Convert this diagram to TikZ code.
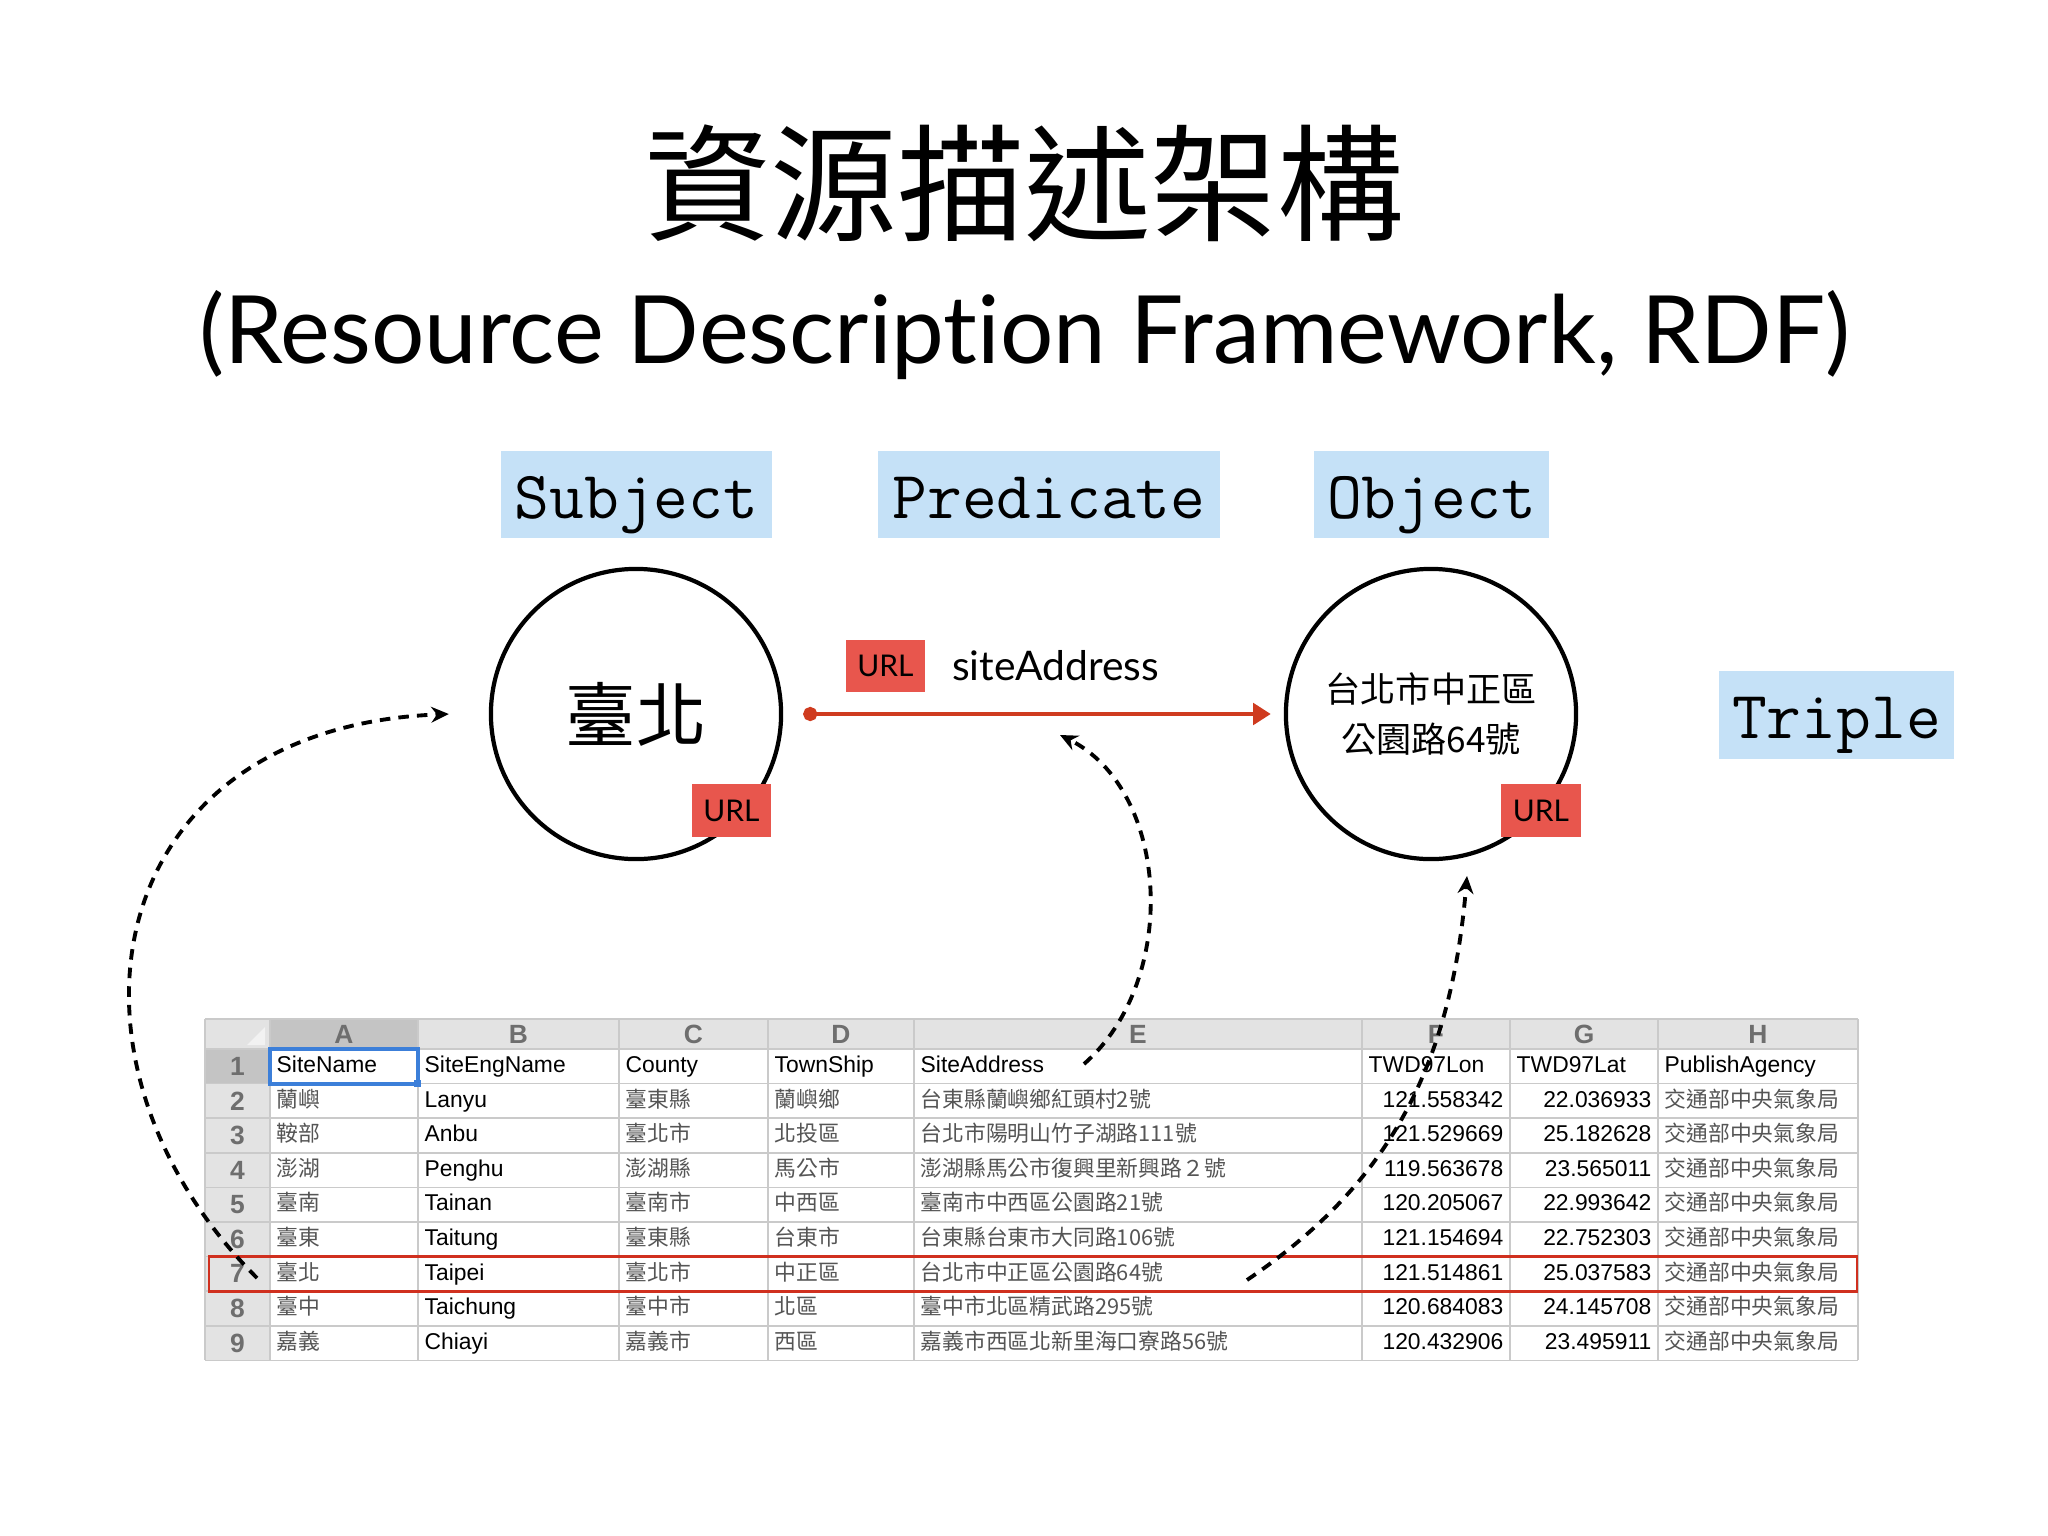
\documentclass[tikz,border=0pt]{standalone}
\usepackage{fontspec}
\setmainfont{Liberation Sans}
\newfontfamily\cjk{Noto Sans CJK TC}
\newfontfamily\gill{Lato}[Ligatures=NoCommon]
\usepackage{tikz}
\usetikzlibrary{arrows.meta,calc,positioning}
\definecolor{tagblue}{HTML}{C5E1F7}
\definecolor{urlred}{HTML}{E8564D}
\definecolor{relred}{HTML}{CF3B1F}
\definecolor{sheetline}{HTML}{CACACA}
\definecolor{headfill}{HTML}{E3E3E3}
\definecolor{headsel}{HTML}{C4C4C4}
\definecolor{headtext}{HTML}{6E6E6E}
\definecolor{cjkgray}{HTML}{555555}
\definecolor{selblue}{HTML}{3C7FD9}
\definecolor{rowred}{HTML}{D0301F}
\tikzset{
  tag/.style={fill=tagblue,font=\ttfamily\addfontfeature{FakeBold=1.6}\fontsize{19.2}{22}\selectfont,minimum height=.87cm,inner sep=0pt,text height=17.5pt,text depth=4pt},
  res/.style={circle,draw,line width=1.2pt,minimum size=2.9cm,inner sep=0pt},
  urltag/.style={fill=urlred,minimum width=.79cm,minimum height=.52cm,inner sep=0pt,font=\gill\fontsize{8.5}{10}\selectfont},
  relation/.style={draw=relred,line width=1.3pt,{Circle[length=4pt]}-{Triangle[length=5pt,width=6pt]}},
  pointer/.style={-{Stealth[length=5pt,width=4.5pt]},line width=1.1pt,dash pattern=on 3pt off 2.3pt},
  sheetrule/.style={draw=sheetline,line width=.5pt},
  colhead/.style={font=\bfseries\fontsize{7.5}{8}\selectfont,text=headtext,inner sep=0pt},
  rowno/.style={font=\bfseries\fontsize{7.5}{8}\selectfont,text=headtext,inner sep=0pt},
  cell/.style={anchor=west,inner sep=0pt,text height=5pt,text depth=1.5pt,font=\fontsize{6.5}{7}\selectfont},
  cjkcell/.style={cell,font=\cjk\fontsize{6.2}{7}\selectfont,text=cjkgray},
  numcell/.style={cell,anchor=east}
}
\begin{document}
\begin{tikzpicture}[x=.01cm,y=-.01cm]
  \fill[white] (0,0) rectangle (2048,1536);
  \useasboundingbox (0,0) rectangle (2048,1536);
  \node[font=\cjk\fontsize{36}{40}\selectfont] (title) at (1024,183) {資源描述架構};
  \node[font=\gill\fontsize{26.8}{32}\selectfont] (subtitle) at (1025,335) {(Resource Description Framework, RDF)};
  \node[tag,minimum width=2.71cm] (subjtag) at (636.5,494.5) {Subject};
  \node[tag,minimum width=3.42cm] (predtag) at (1049,494.5) {Predicate};
  \node[tag,minimum width=2.35cm] (objtag) at (1431.5,494.5) {Object};
  \node[tag,minimum width=2.35cm] (tripletag) at (1836.5,715) {Triple};
  \node[res,font=\cjk\fontsize{20}{24}\selectfont] (subj) at (636,714) {臺北};
  \node[res,align=center,font=\cjk\fontsize{10}{14}\selectfont] (obj) at (1431,714) {台北市中正區\\公園路64號};
  \node[urltag] (subjurl) at (731.5,810.5) {URL};
  \node[urltag] (objurl) at (1541,810.5) {URL};
  \node[urltag] (predurl) at (885.5,666) {URL};
  \node[font=\gill\fontsize{11.6}{14}\selectfont,right=.14cm of predurl] (predname) {siteAddress};
  \draw[relation,shorten <=.2cm,shorten >=.13cm] (subj) -- (obj);

  \fill[headfill] (205,1019) rectangle (1858,1049);
  \fill[headfill] (205,1049) rectangle (270,1360.4);
  \fill[headsel] (270,1019) rectangle (418,1049);
  \fill[headsel] (205,1049) rectangle (270,1083.6);
  \fill[white!90!gray] (265,1045) -- (265,1027) -- (247,1045) -- cycle;
  \foreach \x in {205,270,418,619,768,914,1362,1510,1658,1858}
    \draw[sheetrule] (\x,1019) -- (\x,1360.4);
  \foreach \k in {0,...,9}
    \draw[sheetrule] (205,1049+\k*34.6) -- (1858,1049+\k*34.6);
  \draw[sheetrule] (205,1019) -- (1858,1019);
  \foreach \l/\x in {A/344,B/518.5,C/693.5,D/841,E/1138,F/1436,G/1584,H/1758}
    \node[colhead] (hd\l) at (\x,1034) {\l};

  \node[rowno] (n1) at (237.5,1066.3) {1};
  \node[cell] (a1) at (276,1066.3) {SiteName};
  \node[cell] (b1) at (424,1066.3) {SiteEngName};
  \node[cell] (c1) at (625,1066.3) {County};
  \node[cell] (d1) at (774,1066.3) {TownShip};
  \node[cell] (e1) at (920,1066.3) {SiteAddress};
  \node[cell] (f1) at (1368,1066.3) {TWD97Lon};
  \node[cell] (g1) at (1516,1066.3) {TWD97Lat};
  \node[cell] (h1) at (1664,1066.3) {PublishAgency};
  \foreach \r/\a/\b/\c/\d/\e/\f/\g in {
    2/蘭嶼/Lanyu/臺東縣/蘭嶼鄉/台東縣蘭嶼鄉紅頭村2號/121.558342/22.036933,
    3/鞍部/Anbu/臺北市/北投區/台北市陽明山竹子湖路111號/121.529669/25.182628,
    4/澎湖/Penghu/澎湖縣/馬公市/澎湖縣馬公市復興里新興路２號/119.563678/23.565011,
    5/臺南/Tainan/臺南市/中西區/臺南市中西區公園路21號/120.205067/22.993642,
    6/臺東/Taitung/臺東縣/台東市/台東縣台東市大同路106號/121.154694/22.752303,
    7/臺北/Taipei/臺北市/中正區/台北市中正區公園路64號/121.514861/25.037583,
    8/臺中/Taichung/臺中市/北區/臺中市北區精武路295號/120.684083/24.145708,
    9/嘉義/Chiayi/嘉義市/西區/嘉義市西區北新里海口寮路56號/120.432906/23.495911}{
    \pgfmathsetmacro\yy{1049+(\r-0.5)*34.6}
    \node[rowno] (n\r) at (237.5,\yy) {\r};
    \node[cjkcell] (a\r) at (276,\yy) {\a};
    \node[cell] (b\r) at (424,\yy) {\b};
    \node[cjkcell] (c\r) at (625,\yy) {\c};
    \node[cjkcell] (d\r) at (774,\yy) {\d};
    \node[cjkcell] (e\r) at (920,\yy) {\e};
    \node[numcell] (f\r) at (1504,\yy) {\f};
    \node[numcell] (g\r) at (1652,\yy) {\g};
    \node[cjkcell] (h\r) at (1664,\yy) {交通部中央氣象局};
  }
  \draw[selblue,line width=1.2pt] (270,1049) rectangle (418,1083.6);
  \fill[selblue] (414,1080) rectangle (421,1087);
  \draw[rowred,line width=.8pt] (209,1256.6) rectangle (1857,1291.2);

  \coordinate (rowseven) at (257,1278);
  \coordinate (addrhead) at (1084,1064);
  \coordinate (rowsevenaddr) at (1247,1280);
  \coordinate (subjfoot) at ([xshift=-.4cm]subj.west);
  \coordinate (predfoot) at (1060,735);
  \coordinate (objfoot) at (1467,876);
  \draw[pointer] (rowseven) .. controls +(-217,-217) and +(-351,14) .. (subjfoot);
  \draw[pointer] (addrhead) .. controls +(96,-84) and +(110,55) .. (predfoot);
  \draw[pointer] (rowsevenaddr) .. controls +(133,-90) and +(-17,202) .. (objfoot);
\end{tikzpicture}
\end{document}
